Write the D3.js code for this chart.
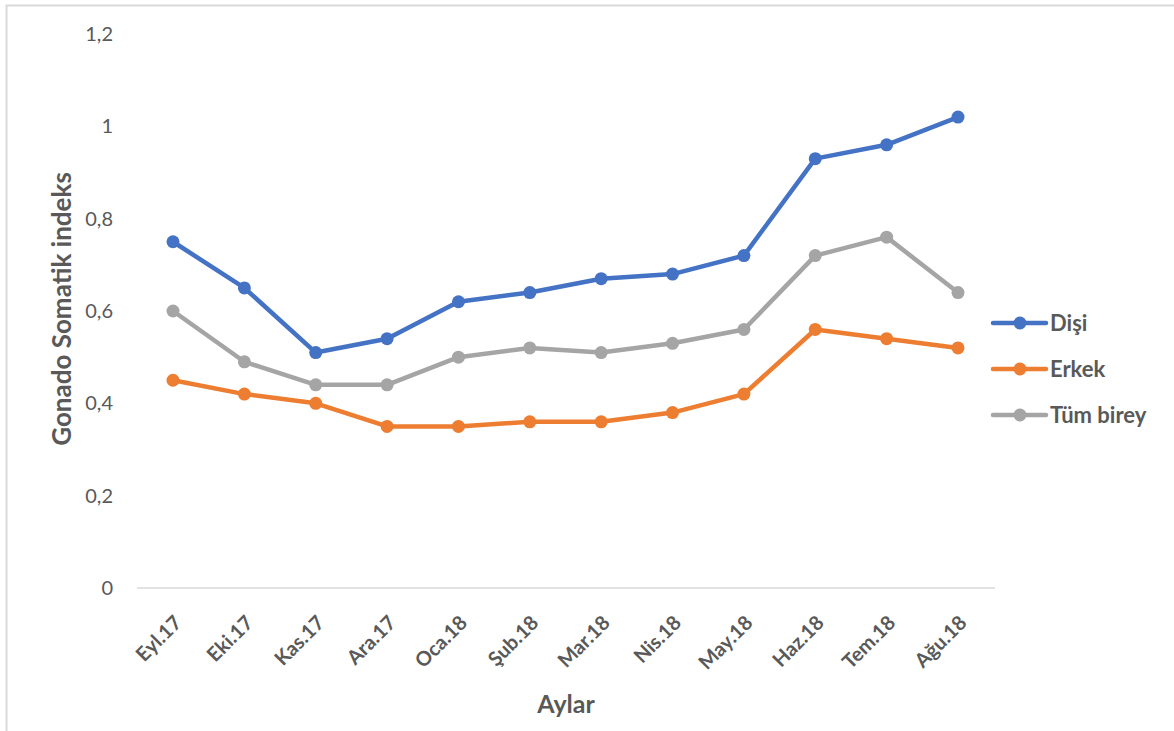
<!DOCTYPE html>
<html>
<head>
<meta charset="utf-8">
<script src="https://cdn.jsdelivr.net/npm/d3@7"></script>
<style>
  body { margin: 0; background: #fff; }
  svg text { font-family: Lato, "Open Sans", sans-serif; fill: #595959; }
</style>
</head>
<body>
<div id="viz-container"></div>
<script>
const months = ["Eyl.17", "Eki.17", "Kas.17", "Ara.17", "Oca.18", "Şub.18",
                "Mar.18", "Nis.18", "May.18", "Haz.18", "Tem.18", "Ağu.18"];
const disi  = [0.75, 0.65, 0.51, 0.54, 0.62, 0.64, 0.67, 0.68, 0.72, 0.93, 0.96, 1.02];
const erkek = [0.45, 0.42, 0.40, 0.35, 0.35, 0.36, 0.36, 0.38, 0.42, 0.56, 0.54, 0.52];
const tum   = [0.60, 0.49, 0.44, 0.44, 0.50, 0.52, 0.51, 0.53, 0.56, 0.72, 0.76, 0.64];
const yTicks = [0, 0.2, 0.4, 0.6, 0.8, 1, 1.2];

const series = [
    { name: "Dişi", values: disi, color: "#4472C4" },
    { name: "Erkek", values: erkek, color: "#ED7D31" },
    { name: "Tüm birey", values: tum, color: "#A5A5A5" }
];

const W = 1174, H = 731;
const svg = d3.select("#viz-container")
    .append("svg")
    .attr("width", W)
    .attr("height", H);

// chart border (only top/left visible in the crop)
svg.append("rect")
    .attr("x", 6.5).attr("y", 5.5)
    .attr("width", W + 10).attr("height", H + 10)
    .attr("fill", "none")
    .attr("stroke", "#d9d9d9")
    .attr("stroke-width", 2);

const x = d3.scalePoint()
    .domain(months)
    .range([173, 958]);

const y = d3.scaleLinear()
    .domain([0, 1.2])
    .range([588, 34]);

// y tick labels, no axis line
svg.append("g")
    .selectAll("text")
    .data(yTicks)
    .join("text")
    .attr("x", 113)
    .attr("y", d => y(d))
    .attr("dy", "0.35em")
    .attr("text-anchor", "end")
    .attr("font-size", "20px")
    .text(d => d3.format(".1~f")(d).replace(".", ","));

// x axis line
svg.append("line")
    .attr("x1", 137).attr("x2", 995)
    .attr("y1", y(0)).attr("y2", y(0))
    .attr("stroke", "#d9d9d9")
    .attr("stroke-width", 1.5);

// month labels
svg.append("g")
    .selectAll("text")
    .data(months)
    .join("text")
    .attr("transform", d => `translate(${x(d) + 10},${y(0) + 36}) rotate(-45)`)
    .attr("text-anchor", "end")
    .attr("font-size", "20px")
    .attr("font-weight", "bold")
    .text(d => d);

const line = d3.line()
    .x((d, i) => x(months[i]))
    .y(d => y(d));

series.forEach(s => {
    svg.append("path")
        .datum(s.values)
        .attr("fill", "none")
        .attr("stroke", s.color)
        .attr("stroke-width", 4.5)
        .attr("stroke-linejoin", "round")
        .attr("d", line);

    svg.append("g")
        .selectAll("circle")
        .data(s.values)
        .join("circle")
        .attr("cx", (d, i) => x(months[i]))
        .attr("cy", d => y(d))
        .attr("r", 6.5)
        .attr("fill", s.color);
});

// legend
const legend = svg.append("g");
series.forEach((s, i) => {
    const ly = 323 + i * 46;
    legend.append("line")
        .attr("x1", 993).attr("x2", 1046)
        .attr("y1", ly).attr("y2", ly)
        .attr("stroke", s.color)
        .attr("stroke-width", 4.5)
        .attr("stroke-linecap", "round");
    legend.append("circle")
        .attr("cx", 1020).attr("cy", ly)
        .attr("r", 6.5)
        .attr("fill", s.color);
    legend.append("text")
        .attr("x", 1050).attr("y", ly)
        .attr("dy", "0.35em")
        .attr("font-size", "22px")
        .attr("font-weight", "bold")
        .text(s.name);
});

// axis titles
svg.append("text")
    .attr("x", 566)
    .attr("y", 713)
    .attr("text-anchor", "middle")
    .attr("font-size", "25px")
    .attr("font-weight", "bold")
    .text("Aylar");

svg.append("text")
    .attr("transform", "translate(71,309) rotate(-90)")
    .attr("text-anchor", "middle")
    .attr("font-size", "26px")
    .attr("font-weight", "bold")
    .text("Gonado Somatik indeks");
</script>
</body>
</html>
